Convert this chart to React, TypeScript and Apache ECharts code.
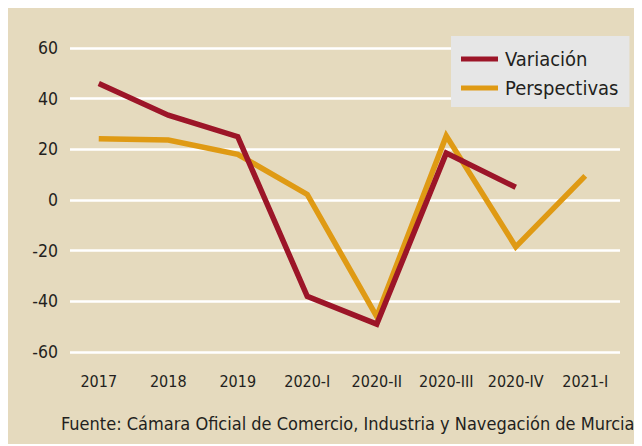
import React, { useEffect, useRef } from "react";
import * as echarts from "echarts";

const categories = ["2017", "2018", "2019", "2020-I", "2020-II", "2020-III", "2020-IV", "2021-I"];
const variacion = [46, 33.5, 25, -38, -49, 18.5, 5, null];
const perspectivas = [24.2, 23.7, 18, 2.2, -46, 25.3, -18.5, 9.5];
const yTicks = { min: -60, max: 60, interval: 20 };
const sourceText = "Fuente: Cámara Oficial de Comercio, Industria y Navegación de Murcia";

const FONT = "'DejaVu Sans Condensed', Roboto, sans-serif";
const TEXT = "#231f20";
const RED = "#9c1528";
const ORANGE = "#df9a14";

export default function App() {
  const ref = useRef<HTMLDivElement>(null);
  useEffect(() => {
    if (!ref.current) return;
    const chart = echarts.init(ref.current, null, { renderer: "svg" });
    chart.setOption({
      animation: false,
      backgroundColor: "#e5dabe",
      textStyle: { fontFamily: FONT },
      grid: [
        { left: 56, right: 22, top: 40, bottom: 92 },
        { left: 62, right: 22, top: 40, bottom: 92 },
      ],
      xAxis: [
        {
          type: "category",
          gridIndex: 0,
          data: categories,
          boundaryGap: true,
          axisLine: { show: false },
          axisTick: { show: false },
          axisLabel: { color: TEXT, fontSize: 16, margin: 21, fontFamily: FONT, interval: 0 },
          splitLine: { show: false },
        },
        { type: "value", gridIndex: 1, min: 0, max: 1, show: false },
      ],
      yAxis: [
        {
          type: "value",
          gridIndex: 0,
          min: yTicks.min,
          max: yTicks.max,
          interval: yTicks.interval,
          show: false,
        },
        {
          type: "value",
          gridIndex: 1,
          min: yTicks.min,
          max: yTicks.max,
          interval: yTicks.interval,
          axisLine: { show: false },
          axisTick: { show: false },
          axisLabel: { color: TEXT, fontSize: 17.5, margin: 12, fontFamily: FONT },
          splitLine: { show: true, lineStyle: { color: "#ffffff", width: 2.5 } },
        },
      ],
      legend: {
        data: ["Variación", "Perspectivas"],
        orient: "vertical",
        left: 443,
        top: 28,
        backgroundColor: "#e6e6e6",
        padding: [13, 11, 9, 10],
        itemGap: 9,
        itemWidth: 37,
        itemHeight: 5,
        icon: "rect",
        textStyle: { color: TEXT, fontSize: 20, lineHeight: 20, fontFamily: FONT, padding: [0, 0, 0, 2] },
      },
      series: [
        {
          name: "Perspectivas",
          type: "line",
          xAxisIndex: 0,
          yAxisIndex: 0,
          data: perspectivas,
          showSymbol: false,
          symbol: "none",
          color: ORANGE,
          lineStyle: { color: ORANGE, width: 5.5, join: "miter" },
        },
        {
          name: "Variación",
          type: "line",
          xAxisIndex: 0,
          yAxisIndex: 0,
          data: variacion,
          showSymbol: false,
          symbol: "none",
          color: RED,
          lineStyle: { color: RED, width: 5.5, join: "miter" },
        },
      ],
      graphic: [
        {
          type: "text",
          left: 53,
          top: 406,
          style: { text: sourceText, fill: TEXT, fontSize: 18, fontFamily: FONT },
        },
      ],
    });
    return () => chart.dispose();
  }, []);
  return <div ref={ref} style={{ width: 634, height: 436 }} />;
}
